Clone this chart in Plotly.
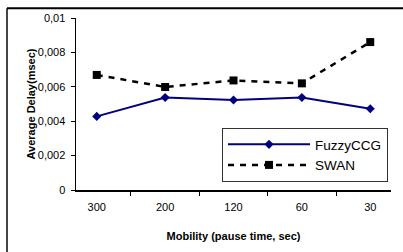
import plotly.graph_objects as go

categories = ["300", "200", "120", "60", "30"]
fuzzyccg = [0.00428, 0.00538, 0.00523, 0.00538, 0.00472]
swan = [0.00669, 0.00599, 0.00637, 0.00620, 0.00860]
ytick_vals = [0, 0.002, 0.004, 0.006, 0.008, 0.01]
ytick_text = ["0", "0,002", "0,004", "0,006", "0,008", "0,01"]

W, H = 403, 252
L, R, T, B = 76, 12, 16, 61
pw, ph = W - L - R, H - T - B

def px(x):
    return (x - L) / pw

def py(y):
    return (H - B - y) / ph

fig = go.Figure()
fig.add_trace(go.Scatter(
    x=categories, y=fuzzyccg, name="FuzzyCCG", mode="lines+markers",
    line=dict(color="#000080", width=2),
    marker=dict(symbol="diamond", size=7, color="#000080"),
    legendgroup="a"))
fig.add_trace(go.Scatter(
    x=categories, y=swan, name="SWAN", mode="lines+markers",
    line=dict(color="black", width=2.5, dash="6px,6px"),
    marker=dict(symbol="square", size=8, color="black"),
    legendgroup="b"))

fig.update_layout(
    width=W, height=H,
    margin=dict(l=L, r=R, t=T, b=B),
    paper_bgcolor="white", plot_bgcolor="white",
    font=dict(family="Liberation Sans, Arial", size=11, color="black"),
    showlegend=True,
    hovermode=False,
    legend=dict(x=px(222), y=py(128), xanchor="left", yanchor="top",
                bordercolor="#333333", borderwidth=1, bgcolor="white",
                font=dict(size=13.5), itemwidth=82, tracegroupgap=3,
                traceorder="normal"),
    xaxis=dict(type="category", showline=True, linecolor="black", linewidth=1.5,
               ticks="outside", ticklen=4, tickcolor="black", tickson="boundaries",
               showgrid=False, zeroline=False, ticklabelstandoff=6,
               title=dict(text="<b>Mobility (pause time, sec)</b>", font=dict(size=11), standoff=20)),
    yaxis=dict(range=[0, 0.01], tickvals=ytick_vals, ticktext=ytick_text,
               showline=True, linecolor="black", linewidth=1.5,
               ticks="outside", ticklen=4, tickcolor="black", ticklabelstandoff=3,
               showgrid=False, zeroline=False,
               title=dict(text="<b>Average Delay(msec)</b>", font=dict(size=11), standoff=0)),
    shapes=[
        dict(type="line", xref="paper", yref="paper", x0=px(7), x1=px(7), y0=py(6), y1=py(260),
             line=dict(color="#444444", width=2)),
        dict(type="line", xref="paper", yref="paper", x0=px(7), x1=px(410), y0=py(6), y1=py(6),
             line=dict(color="black", width=2)),
    ],
)

fig.write_html("out.html", config={"displayModeBar": False, "staticPlot": True},
               post_script="document.body.style.margin='0';document.body.style.padding='0';")
